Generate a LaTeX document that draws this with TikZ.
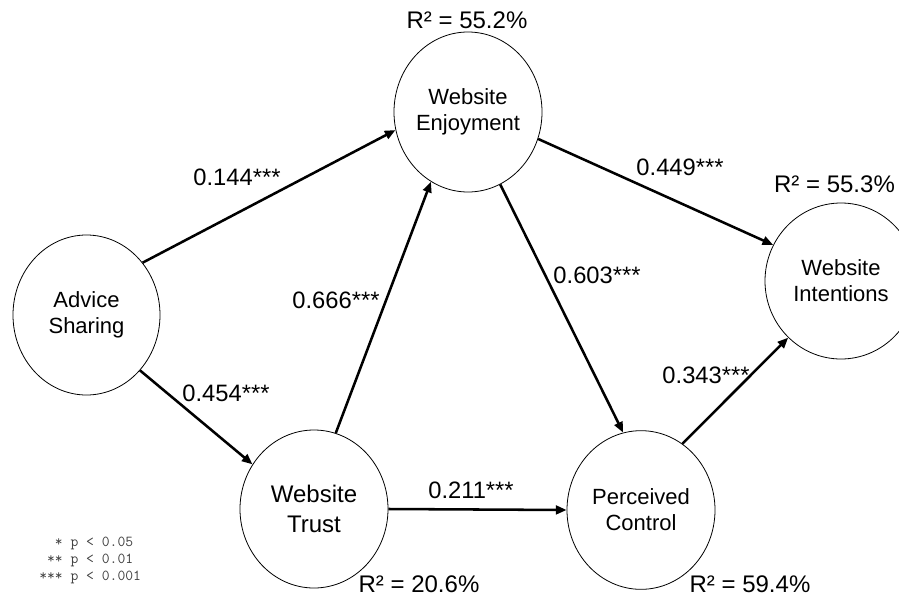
\documentclass[tikz,border=0pt]{standalone}
\usepackage{fontspec}
\setmainfont{Liberation Sans}
\usetikzlibrary{shapes.geometric,arrows.meta}

\tikzset{
  construct/.style={draw, ellipse, line width=0.6pt, inner sep=0pt, minimum width=111pt, minimum height=119pt, align=center, font=\fontsize{16.5}{19.5}\selectfont},
  effect/.style={line width=1.9pt, -{Triangle[length=8pt,width=6.5pt]}},
  coef/.style={inner sep=0pt, font=\fontsize{17.8}{20}\selectfont},
  rsq/.style={inner sep=0pt, font=\fontsize{18}{20}\selectfont}
}

\begin{document}
\begin{tikzpicture}[x=0.75pt,y=0.75pt,yscale=-1,xscale=1]
\useasboundingbox (0,0) rectangle (899,596);

%Shape: Ellipse [constructs]
\node [construct, minimum width=110.25pt, minimum height=120pt] (as) at (86.5,315) {Advice\\Sharing};
\node [construct, minimum height=120pt] (we) at (468,112) {Website\\Enjoyment};
\node [construct, minimum height=118.5pt, font=\fontsize{18}{23}\selectfont] (wt) at (314,509) {Website\\Trust};
\node [construct] (pc) at (641,510) {Perceived\\Control};
\node [construct, minimum width=114pt, minimum height=117pt] (wi) at (841,281) {Website\\Intentions};

%Straight Lines [paths]
\draw [effect] (as.43) -- (we.194);
\draw [effect] (as.-46) -- (wt.144.6);
\draw [effect] (wt.74.7) -- (we.242.5);
\draw [effect] (we.-21.4) -- (wi.152.4);
\draw [effect] (we.-66.3) -- (pc.103.7);
\draw [effect] (wt.east) -- (pc.west);
\draw [effect] (pc.58.5) -- (wi.227);

% Text Node
\node [coef] (c1) at (237,177) {0.144***};
\node [coef] (c2) at (226,393) {0.454***};
\node [coef] (c3) at (336,300) {0.666***};
\node [coef] (c4) at (680,167) {0.449***};
\node [coef] (c5) at (597,275) {0.603***};
\node [coef] (c6) at (471,490) {0.211***};
\node [coef] (c7) at (706,375) {0.343***};

% Text Node
\node [rsq] (r1) at (467,20) {R² = 55.2\%};
\node [rsq] (r2) at (834.5,184) {R² = 55.3\%};
\node [rsq] (r3) at (419,584) {R² = 20.6\%};
\node [rsq] (r4) at (750,584) {R² = 59.4\%};

% Text Node
\node [anchor=north west, inner sep=0pt, align=left, text=black!75, font=\ttfamily\fontsize{11.4}{12.75}\selectfont] (legend) at (39,537) {\phantom{**}* p < 0.05\\\phantom{*}** p < 0.01\\*** p < 0.001};

\end{tikzpicture}
\end{document}
